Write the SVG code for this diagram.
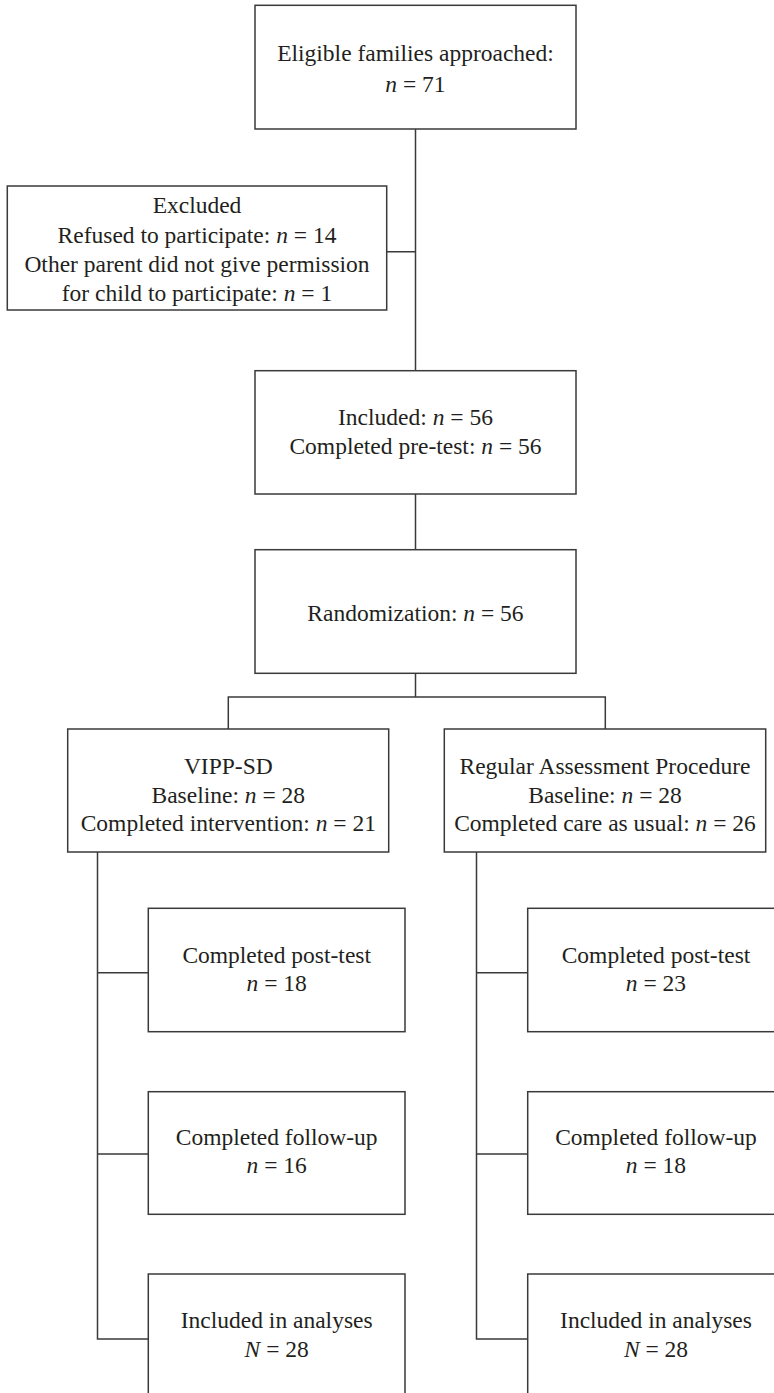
<svg xmlns="http://www.w3.org/2000/svg" width="774" height="1393" viewBox="0 0 774 1393">
<style>
.box{fill:#fff;stroke:#3a3a3a;stroke-width:1.5}
.ln{fill:none;stroke:#3a3a3a;stroke-width:1.5}
text{font-family:"Liberation Serif","Times New Roman",serif;font-size:23.5px;fill:#231f20;text-anchor:middle}
.i{font-style:italic}
</style>
<rect x="0" y="0" width="774" height="1393" fill="#fff"/>
<g id="connectors">
<path class="ln" d="M415.5,129 V371 M387,251.7 H415.5 M415.5,494 V549.7 M415.5,673.3 V697 M228.3,729 V697 H605.3 V729"/>
<path class="ln" d="M97.5,852 V1339 H148.3 M97.5,972.7 H148.3 M97.5,1154 H148.3"/>
<path class="ln" d="M476.5,852 V1339 H527.7 M476.5,972.7 H527.7 M476.5,1154 H527.7"/>
</g>
<g id="eligible">
<rect class="box" x="255" y="5.3" width="321" height="123.7"/>
<text x="415.5" y="60.5">Eligible families approached:</text>
<text x="415.5" y="92"><tspan class="i">n</tspan> = 71</text>
</g>
<g id="excluded">
<rect class="box" x="7.3" y="186" width="379.4" height="124"/>
<text x="197" y="213">Excluded</text>
<text x="197" y="242.5">Refused to participate: <tspan class="i">n</tspan> = 14</text>
<text x="197" y="272">Other parent did not give permission</text>
<text x="197" y="301">for child to participate: <tspan class="i">n</tspan> = 1</text>
</g>
<g id="included">
<rect class="box" x="255" y="370.7" width="321" height="123.3"/>
<text x="415.5" y="425">Included: <tspan class="i">n</tspan> = 56</text>
<text x="415.5" y="454">Completed pre-test: <tspan class="i">n</tspan> = 56</text>
</g>
<g id="randomization">
<rect class="box" x="255" y="549.7" width="321" height="123.6"/>
<text x="415.5" y="620.7">Randomization: <tspan class="i">n</tspan> = 56</text>
</g>
<g id="vipp">
<rect class="box" x="67.7" y="729" width="321" height="123"/>
<text x="228.3" y="774">VIPP-SD</text>
<text x="228.3" y="802.5">Baseline: <tspan class="i">n</tspan> = 28</text>
<text x="228.3" y="831">Completed intervention: <tspan class="i">n</tspan> = 21</text>
</g>
<g id="regular">
<rect class="box" x="444.3" y="729" width="321.4" height="123"/>
<text x="605" y="774">Regular Assessment Procedure</text>
<text x="605" y="802.5">Baseline: <tspan class="i">n</tspan> = 28</text>
<text x="605" y="831">Completed care as usual: <tspan class="i">n</tspan> = 26</text>
</g>
<g id="vipp-posttest">
<rect class="box" x="148.3" y="908.3" width="256.7" height="123.4"/>
<text x="276.7" y="963.3">Completed post-test</text>
<text x="276.7" y="991"><tspan class="i">n</tspan> = 18</text>
</g>
<g id="vipp-followup">
<rect class="box" x="148.3" y="1091.7" width="256.7" height="122.6"/>
<text x="276.7" y="1145">Completed follow-up</text>
<text x="276.7" y="1173.3"><tspan class="i">n</tspan> = 16</text>
</g>
<g id="vipp-analyses">
<rect class="box" x="148.3" y="1274" width="256.7" height="140"/>
<text x="276.7" y="1328">Included in analyses</text>
<text x="276.7" y="1356.7"><tspan class="i">N</tspan> = 28</text>
</g>
<g id="rap-posttest">
<rect class="box" x="527.7" y="908.3" width="256.7" height="123.4"/>
<text x="656" y="963.3">Completed post-test</text>
<text x="656" y="991"><tspan class="i">n</tspan> = 23</text>
</g>
<g id="rap-followup">
<rect class="box" x="527.7" y="1091.7" width="256.7" height="122.6"/>
<text x="656" y="1145">Completed follow-up</text>
<text x="656" y="1173.3"><tspan class="i">n</tspan> = 18</text>
</g>
<g id="rap-analyses">
<rect class="box" x="527.7" y="1274" width="256.7" height="140"/>
<text x="656" y="1328">Included in analyses</text>
<text x="656" y="1356.7"><tspan class="i">N</tspan> = 28</text>
</g>
</svg>
